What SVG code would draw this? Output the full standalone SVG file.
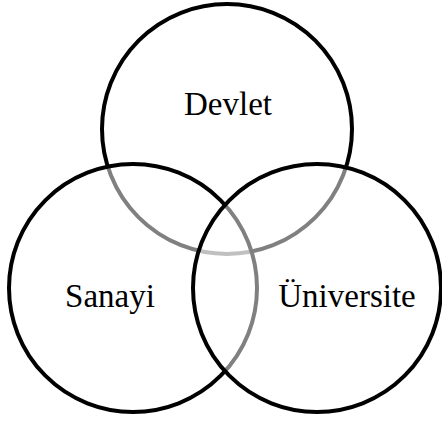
<svg xmlns="http://www.w3.org/2000/svg" width="442" height="422" viewBox="0 0 442 422">
<style>
.c{fill:#fff;fill-opacity:0.5;stroke:#000;stroke-width:4}
.t{font-family:"Liberation Serif","Times New Roman",serif;font-size:33px;fill:#000;text-anchor:middle}
</style>
<rect width="442" height="422" fill="#fff"/>
<g id="devlet"><circle class="c" cx="227" cy="129" r="125"/></g>
<g id="sanayi"><circle class="c" cx="133" cy="288" r="124"/></g>
<g id="universite"><circle class="c" cx="317" cy="288" r="124"/></g>
<g id="connectors"></g>
<g id="labels">
<text class="t" x="228" y="115">Devlet</text>
<text class="t" x="110" y="307">Sanayi</text>
<text class="t" x="347" y="307">Üniversite</text>
</g>
</svg>
